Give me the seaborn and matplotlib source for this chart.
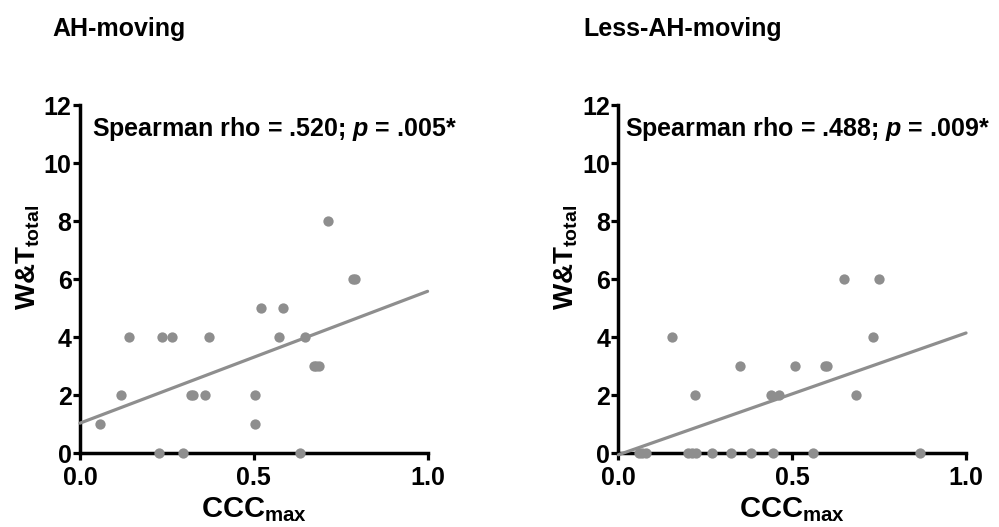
import numpy as np
import pandas as pd
import matplotlib
matplotlib.use("Agg")
import matplotlib.pyplot as plt
import seaborn as sns

# CCC_max vs W&T_total
ah_ccc = [0.057, 0.118, 0.142, 0.236, 0.265, 0.228, 0.296, 0.320, 0.326, 0.361,
          0.371, 0.505, 0.505, 0.521, 0.583, 0.572, 0.646, 0.633, 0.715, 0.672,
          0.680, 0.688, 0.785, 0.791]
ah_wt = [1, 2, 4, 4, 4, 0, 0, 2, 2, 2,
         4, 2, 1, 5, 5, 4, 4, 0, 8, 3,
         3, 3, 6, 6]

less_ccc = [0.154, 0.220, 0.351, 0.438, 0.462, 0.507, 0.595, 0.600, 0.649, 0.750,
            0.732, 0.683, 0.058, 0.068, 0.080, 0.200, 0.211, 0.222, 0.270, 0.324,
            0.381, 0.444, 0.559, 0.867]
less_wt = [4, 2, 3, 2, 2, 3, 3, 3, 6, 6,
           4, 2, 0, 0, 0, 0, 0, 0, 0, 0,
           0, 0, 0, 0]

titles = ["AH-moving", "Less-AH-moving"]
# \! cancels the thin space mathtext puts after a leading '.'
rho_text = ["Spearman rho = .520; $\\it{p}$ = $\\it{.\\!005}$*",
            "Spearman rho = .488; $\\it{p}$ = $\\it{.\\!009}$*"]
x_ticks = [0.0, 0.5, 1.0]
x_ticklabels = ["0.0", "0.5", "1.0"]
y_ticks = [0, 2, 4, 6, 8, 10, 12]

sns.set_theme(style="ticks")
plt.rcParams['font.family'] = ['Liberation Sans', 'DejaVu Sans']
plt.rcParams['font.weight'] = 'bold'
plt.rcParams['text.color'] = 'black'
plt.rcParams['axes.labelcolor'] = 'black'
plt.rcParams['mathtext.fontset'] = 'custom'
plt.rcParams['mathtext.rm'] = 'Liberation Sans:bold'
plt.rcParams['mathtext.bf'] = 'Liberation Sans:bold'
plt.rcParams['mathtext.it'] = 'Liberation Sans:bold:italic'

grey = "#8e8e8e"

fig = plt.figure(figsize=(9.99, 5.27), dpi=100)
ax1 = fig.add_axes([0.080, 0.140, 0.348, 0.660])
ax2 = fig.add_axes([0.619, 0.140, 0.348, 0.660])

panels = [
    (ax1, pd.DataFrame({"ccc": ah_ccc, "wt": ah_wt}), 0.034),
    (ax2, pd.DataFrame({"ccc": less_ccc, "wt": less_wt}), 0.020),
]

for i, (ax, df, txt_x) in enumerate(panels):
    ax.set_xlim(0, 1.0)
    ax.set_ylim(0, 12)
    sns.regplot(data=df, x="ccc", y="wt", ax=ax, ci=None, truncate=False,
                color=grey,
                scatter_kws={"s": 55, "clip_on": False, "zorder": 5,
                             "linewidths": 0, "alpha": 1},
                line_kws={"lw": 2.3, "zorder": 4, "clip_on": False})
    ax.set_xlim(0, 1.0)
    ax.set_ylim(0, 12)

    for side in ["top", "right"]:
        ax.spines[side].set_visible(False)
    for side in ["left", "bottom"]:
        ax.spines[side].set_linewidth(2.5)
        ax.spines[side].set_color("black")
    ax.tick_params(direction="out", length=5, width=2.3, colors="black",
                   labelsize=18)
    ax.tick_params(axis="x", pad=4)
    ax.tick_params(axis="y", pad=1)
    ax.set_xticks(x_ticks)
    ax.set_xticklabels(x_ticklabels, fontweight="bold")
    ax.set_yticks(y_ticks)
    ax.set_yticklabels([str(v) for v in y_ticks], fontweight="bold")

    ax.set_xlabel("CCC$_{\\mathrm{max}}$", fontsize=21, fontweight="bold")
    ax.set_ylabel("W&T$_{\\mathrm{total}}$", fontsize=20, fontweight="bold")
    ax.xaxis.set_label_coords(0.5, -0.122)
    ax.yaxis.set_label_coords(-0.109, 0.563)

    ax.text(txt_x, 0.911, rho_text[i], transform=ax.transAxes, fontsize=18,
            fontweight="bold", va="baseline", ha="left")

fig.text(0.052, 1 - 36 / 527, titles[0], fontsize=18, fontweight="bold",
         va="baseline", ha="left")
fig.text(0.584, 1 - 36 / 527, titles[1], fontsize=18, fontweight="bold",
         va="baseline", ha="left")

fig.savefig("out.png", dpi=100)
